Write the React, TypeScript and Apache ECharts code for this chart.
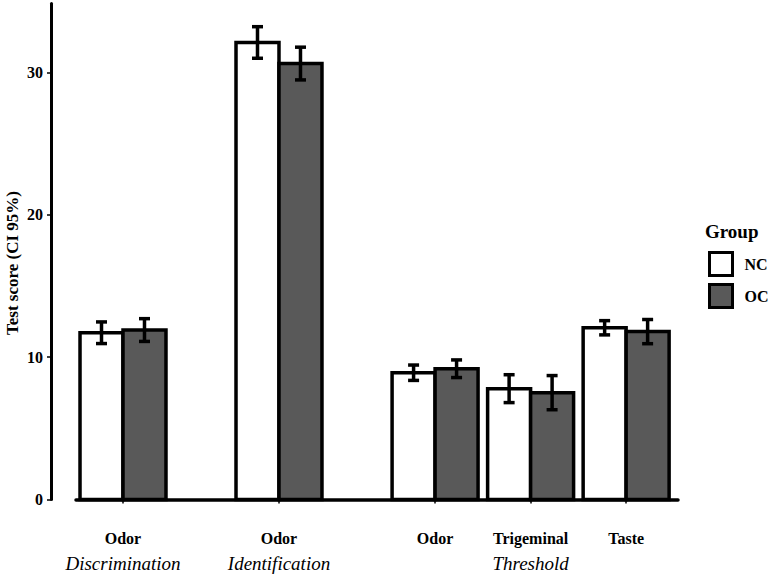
import React, { useEffect, useRef } from "react";
import * as echarts from "echarts";

// ---- data ----
const categories = ["Odor", "Odor", "Odor", "Trigeminal", "Taste"];
const testLabels = ["Discrimination", "Identification", "", "Threshold", ""];
// horizontal position of each category (in category-step units)
const categoryX = [1, 2.633, 4.267, 5.267, 6.267];
const ncMean = [11.72, 32.12, 8.91, 7.79, 12.07];
const ncCI = [0.76, 1.11, 0.54, 0.98, 0.5];
const ocMean = [11.91, 30.64, 9.19, 7.51, 11.8];
const ocCI = [0.8, 1.15, 0.62, 1.2, 0.85];
const yTicks = [0, 10, 20, 30];
const groups = ["NC", "OC"];

const FONT = '"Liberation Serif", "Times New Roman", serif';
const BAR_W = 0.45;
const NC_FILL = "#ffffff";
const OC_FILL = "#595959";

function makeRender(side: number, fill: string) {
  return (params: any, api: any) => {
    const x = api.value(0) as number;
    const m = api.value(1) as number;
    const ci = api.value(2) as number;
    const c = x + side * (BAR_W / 2);
    const tl = api.coord([c - BAR_W / 2, m]);
    const br = api.coord([c + BAR_W / 2, 0]);
    const top = api.coord([c, m + ci]);
    const bot = api.coord([c, m - ci]);
    const cap = 5.5;
    const ls = { stroke: "#000", lineWidth: 3.5 };
    return {
      type: "group",
      children: [
        {
          type: "rect",
          shape: { x: tl[0], y: tl[1], width: br[0] - tl[0], height: br[1] - tl[1] },
          style: { fill, stroke: "#000", lineWidth: 3.5 },
        },
        { type: "line", shape: { x1: top[0], y1: top[1], x2: bot[0], y2: bot[1] }, style: ls },
        { type: "line", shape: { x1: top[0] - cap, y1: top[1], x2: top[0] + cap, y2: top[1] }, style: ls },
        { type: "line", shape: { x1: bot[0] - cap, y1: bot[1], x2: bot[0] + cap, y2: bot[1] }, style: ls },
      ],
    };
  };
}

export default function App() {
  const ref = useRef<HTMLDivElement>(null);
  useEffect(() => {
    if (!ref.current) return;
    const chart = echarts.init(ref.current, undefined, { renderer: "svg" });
    const labelFor = (v: number) => {
      const i = categoryX.findIndex((p) => Math.abs(p - v) < 1e-6);
      if (i < 0) return "";
      return testLabels[i]
        ? `{a|${categories[i]}}\n{b|${testLabels[i]}}`
        : `{a|${categories[i]}}`;
    };
    chart.setOption({
      animation: false,
      backgroundColor: "#ffffff",
      grid: { left: 76, right: 94, top: 3.5, bottom: 76.5, containLabel: false },
      xAxis: {
        type: "value",
        min: 0.508,
        max: 6.81,
        offset: 22.5,
        splitLine: { show: false },
        axisLine: { show: true, lineStyle: { color: "#000", width: 3.5 } },
        axisTick: { show: true, customValues: categoryX, length: 4, lineStyle: { color: "#000", width: 1.5 } },
        axisLabel: {
          show: true,
          customValues: categoryX,
          margin: 7,
          formatter: (v: number) => labelFor(v),
          rich: {
            a: { fontFamily: FONT, fontWeight: "bold", fontSize: 16, lineHeight: 18, color: "#000" },
            b: { fontFamily: FONT, fontStyle: "italic", fontSize: 19, lineHeight: 32, color: "#000" },
          },
        },
      },
      yAxis: {
        type: "value",
        min: 0,
        max: 34.86,
        interval: 10,
        offset: 25,
        splitLine: { show: false },
        axisLine: { show: true, lineStyle: { color: "#000", width: 3 } },
        axisTick: { show: true, customValues: yTicks, length: 4, lineStyle: { color: "#000", width: 1.5 } },
        axisLabel: {
          customValues: yTicks,
          margin: 8,
          fontFamily: FONT,
          fontWeight: "bold",
          fontSize: 16,
          color: "#000",
        },
      },
      legend: {
        orient: "vertical",
        left: 708,
        top: 251,
        padding: 0,
        itemWidth: 23,
        itemHeight: 23,
        itemGap: 6,
        icon: "rect",
        selectedMode: false,
        textStyle: { fontFamily: FONT, fontWeight: "bold", fontSize: 16, color: "#000", padding: [0, 0, 0, 7] },
        data: [
          { name: groups[0], itemStyle: { color: NC_FILL, borderColor: "#000", borderWidth: 3 } },
          { name: groups[1], itemStyle: { color: OC_FILL, borderColor: "#000", borderWidth: 3 } },
        ],
      },
      graphic: [
        {
          type: "text",
          x: 12,
          y: 263,
          rotation: Math.PI / 2,
          style: {
            text: "Test score (CI 95%)",
            font: `bold 17px ${FONT}`,
            fill: "#000",
            align: "center",
            verticalAlign: "middle",
          },
        },
        {
          type: "text",
          x: 705,
          y: 231,
          style: {
            text: "Group",
            font: `bold 19px ${FONT}`,
            fill: "#000",
            align: "left",
            verticalAlign: "middle",
          },
        },
      ],
      series: [
        {
          name: groups[0],
          type: "custom",
          itemStyle: { color: NC_FILL, borderColor: "#000" },
          encode: { x: 0, y: 1 },
          data: categoryX.map((x, i) => [x, ncMean[i], ncCI[i]]),
          renderItem: makeRender(-1, NC_FILL),
          z: 2,
        },
        {
          name: groups[1],
          type: "custom",
          itemStyle: { color: OC_FILL, borderColor: "#000" },
          encode: { x: 0, y: 1 },
          data: categoryX.map((x, i) => [x, ocMean[i], ocCI[i]]),
          renderItem: makeRender(1, OC_FILL),
          z: 3,
        },
      ],
    });
    return () => chart.dispose();
  }, []);
  return (
    <div
      ref={ref}
      style={{ position: "fixed", left: 0, top: 0, width: 772, height: 576, background: "#fff" }}
    />
  );
}
